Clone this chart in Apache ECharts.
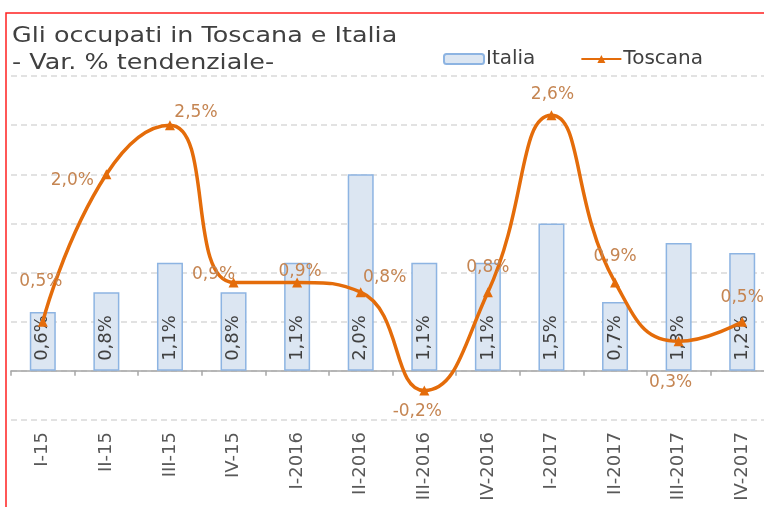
<!DOCTYPE html>
<html>
<head>
<meta charset="utf-8">
<title>Gli occupati in Toscana e Italia</title>
<script src="https://cdn.jsdelivr.net/npm/echarts@6/dist/echarts.min.js"></script>
<style>
    html, body { margin: 0; padding: 0; background: #fff; }
    #main { width: 764px; height: 507px; }
</style>
</head>
<body>
<div id="main"></div>
<script>
// trimestri
var categories = ['I-15', 'II-15', 'III-15', 'IV-15', 'I-2016', 'II-2016', 'III-2016', 'IV-2016', 'I-2017', 'II-2017', 'III-2017', 'IV-2017'];
// var. % tendenziale occupati
var italia = [0.6, 0.8, 1.1, 0.8, 1.1, 2.0, 1.1, 1.1, 1.5, 0.7, 1.3, 1.2];
var toscana = [0.5, 2.0, 2.5, 0.9, 0.9, 0.8, -0.2, 0.8, 2.6, 0.9, 0.3, 0.5];
var yTicks = [-0.5, 0, 0.5, 1, 1.5, 2, 2.5, 3];

// spostamento etichette Toscana rispetto al marker
var labelOffsets = [[-2, -40], [-34, 6], [26, -13], [-20, -8], [3, -11], [24, -15],
    [-7, 21], [0, -25], [1, -21], [0, -26], [-8, 41], [0, -24]];

var FONT = 'DejaVu Sans';

function fmt(v) {
    return v.toFixed(1).replace('.', ',') + '%';
}

var myChart = echarts.init(document.getElementById('main'));

var option = {
    animation: false,
    backgroundColor: '#ffffff',
    graphic: [
        {
            // cornice rossa
            type: 'rect',
            shape: { x: 6, y: 13, width: 800, height: 600 },
            style: { fill: null, stroke: '#ff2020', lineWidth: 1.5 },
            z: 100
        },
        {
            // titolo (carattere allargato come nell'originale)
            type: 'text',
            x: 12,
            y: 23,
            scaleX: 1.21,
            style: {
                text: 'Gli occupati in Toscana e Italia\n- Var. % tendenziale-',
                font: '21px "DejaVu Sans"',
                fill: '#404040',
                lineHeight: 27,
                verticalAlign: 'top'
            }
        }
    ],
    legend: {
        left: 438,
        top: 44,
        itemWidth: 40,
        itemHeight: 10,
        itemGap: 45,
        textStyle: { fontFamily: FONT, fontSize: 20, color: '#404040', padding: [0, 0, 0, -3] },
        data: ['Italia', 'Toscana']
    },
    grid: {
        left: 11,
        right: -10,
        top: 76,
        bottom: 87,
        containLabel: false,
        outerBoundsMode: 'none'
    },
    xAxis: {
        type: 'category',
        data: categories,
        boundaryGap: true,
        axisLine: { onZero: true, lineStyle: { color: '#a6a6a6', width: 1.5 } },
        axisTick: { show: true, length: 5, lineStyle: { color: '#a6a6a6', width: 1.5 } },
        axisLabel: {
            rotate: 90,
            margin: 12,
            interval: 0,
            fontFamily: FONT,
            fontSize: 18,
            color: '#595959'
        }
    },
    yAxis: {
        type: 'value',
        min: yTicks[0],
        max: yTicks[yTicks.length - 1],
        interval: 0.5,
        axisLine: { show: false },
        axisTick: { show: false },
        axisLabel: { show: false },
        splitLine: { lineStyle: { color: '#d9d9d9', width: 1.5, type: [6, 4] } }
    },
    series: [
        {
            name: 'Italia',
            type: 'bar',
            data: italia,
            barWidth: 26,
            itemStyle: { color: '#dce6f2', borderColor: '#8db4e2', borderWidth: 1.5 },
            label: {
                show: true,
                position: 'insideBottom',
                distance: 10,
                rotate: 90,
                align: 'left',
                verticalAlign: 'middle',
                fontFamily: FONT,
                fontSize: 18,
                color: '#404040',
                formatter: function (p) { return fmt(p.value); }
            },
            z: 2
        },
        {
            name: 'Toscana',
            type: 'line',
            smooth: 0.5,
            data: toscana.map(function (v, i) {
                return {
                    value: v,
                    label: { offset: labelOffsets[i] }
                };
            }),
            symbol: 'triangle',
            symbolSize: 10,
            lineStyle: { color: '#e46c0a', width: 3.5 },
            itemStyle: { color: '#e46c0a' },
            label: {
                show: true,
                position: 'inside',
                fontFamily: FONT,
                fontSize: 17,
                color: '#c58552',
                formatter: function (p) { return fmt(p.value); }
            },
            z: 5
        }
    ]
};

myChart.setOption(option);
</script>
</body>
</html>
